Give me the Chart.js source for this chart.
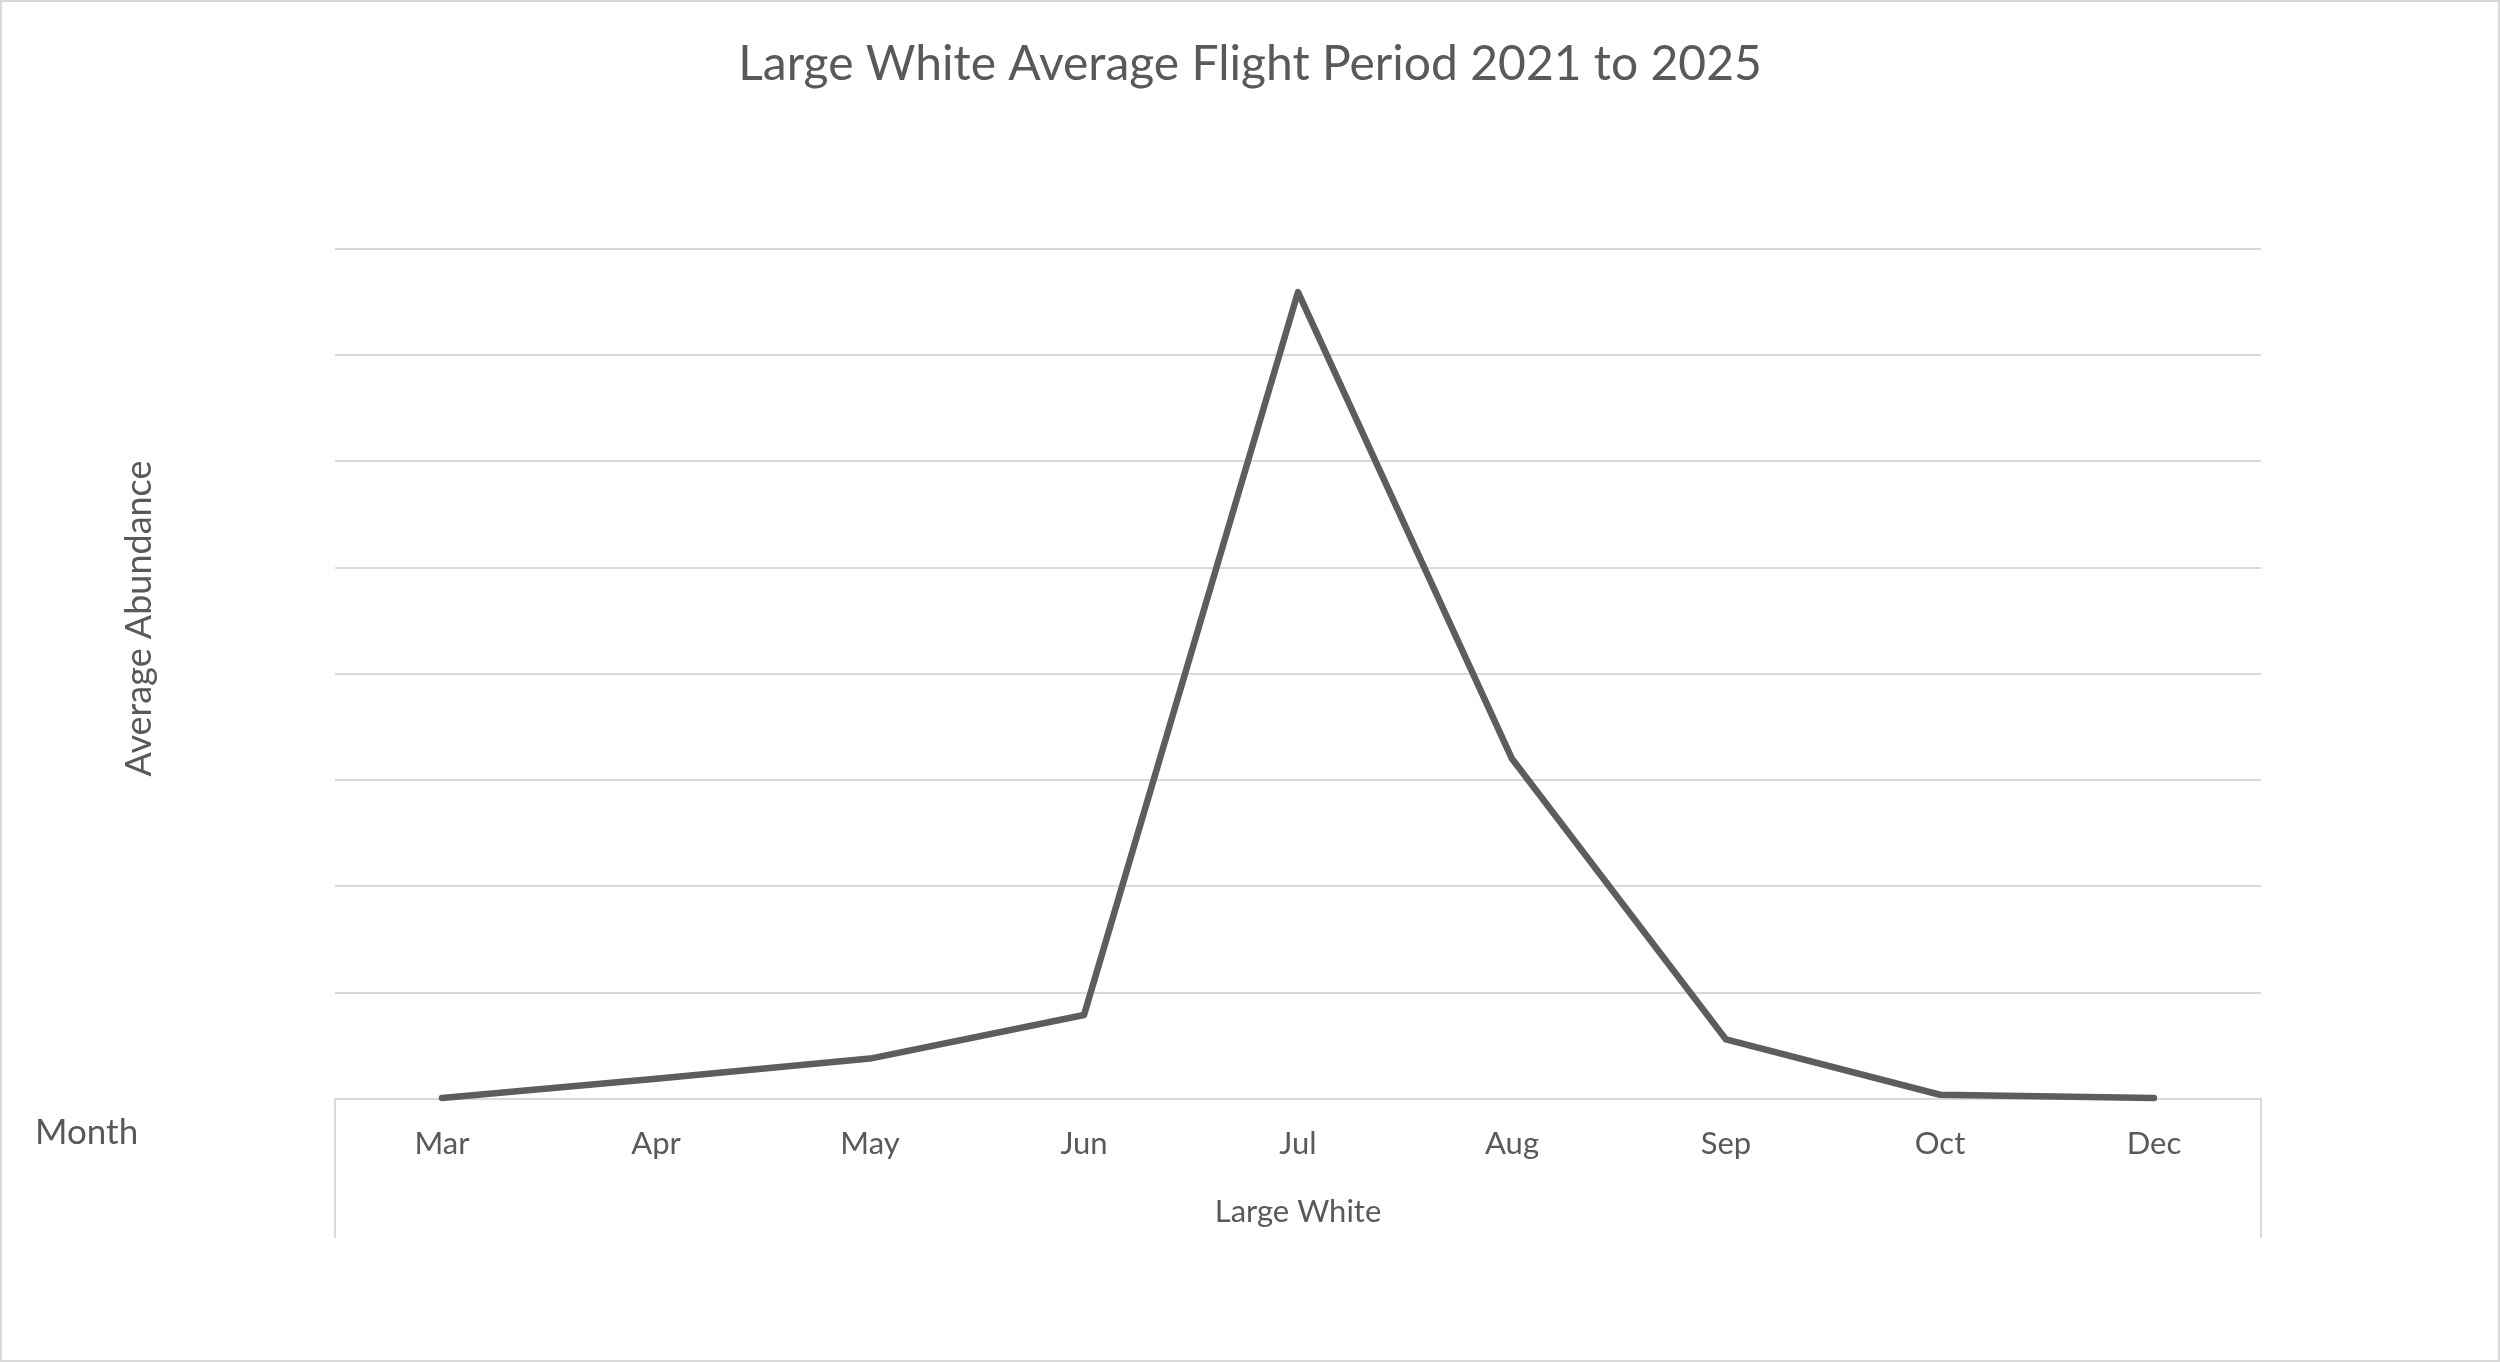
<!DOCTYPE html>
<html>
<head>
<meta charset="utf-8">
<script src="https://cdn.jsdelivr.net/npm/chart.js"></script>
<style>
  html, body { margin: 0; padding: 0; background: #fff; }
  #wrap { position: relative; width: 2500px; height: 1362px; }
  #frame { position: absolute; left: 0; top: 0; width: 2500px; height: 1362px; box-sizing: border-box; border: 2px solid #d9d9d9; pointer-events: none; }
  #month { position: absolute; left: 35px; top: 1109px; font: 35px Lato, sans-serif; color: #595959; line-height: 42px; }
</style>
</head>
<body>
<div id="wrap">
  <canvas id="chart" width="2500" height="1362"></canvas>
  <div id="month">Month</div>
  <div id="frame"></div>
</div>
<script>
const months = ['Mar', 'Apr', 'May', 'Jun', 'Jul', 'Aug', 'Sep', 'Oct', 'Dec']
const largeWhite = [0.01, 0.19, 0.38, 0.79, 7.59, 3.2, 0.56, 0.04, 0.01]
const seriesName = 'Large White'
const chartTitle = 'Large White Average Flight Period 2021 to 2025'
const yTitle = 'Average Abundance'

const grey = '#595959'
const gridGrey = '#d9d9d9'

Chart.defaults.font.family = 'Lato, sans-serif'
Chart.defaults.color = grey

const ctx = document.querySelector('#chart').getContext('2d')

new Chart(ctx, {
    type: 'line',
    data: {
        labels: months,
        datasets: [
            {
                label: seriesName,
                data: largeWhite,
                borderColor: '#5d5d5d',
                borderWidth: 6.5,
                borderCapStyle: 'round',
                borderJoinStyle: 'round',
                pointRadius: 0,
                tension: 0,
                clip: false
            }
        ]
    },
    options: {
        responsive: false,
        animation: false,
        devicePixelRatio: 1,
        // symmetric so the chart title sits in the middle of the canvas
        layout: { padding: { left: 239, right: 239, top: 0, bottom: 0 } },
        plugins: {
            legend: { display: false },
            tooltip: { enabled: false },
            title: {
                display: true,
                text: chartTitle,
                color: grey,
                font: { size: 48, weight: 'normal' },
                padding: { top: 36, bottom: 155 }
            }
        },
        scales: {
            x: {
                offset: true,
                grid: {
                    offset: true,
                    drawOnChartArea: false,
                    tickLength: 139,
                    lineWidth: 2,
                    // only the two outer edges of the category box
                    color: (c) => (c.type === 'scale' || c.index === 0) ? gridGrey : 'rgba(0,0,0,0)'
                },
                border: { color: gridGrey, width: 2 },
                ticks: { font: { size: 31 }, padding: -113, maxRotation: 0, autoSkip: false },
                title: { display: true, text: seriesName, font: { size: 31 }, padding: 131 },
                afterFit: (scale) => { scale.height = 263 }
            },
            y: {
                min: 0,
                max: 8,
                ticks: { display: false, stepSize: 1 },
                grid: { color: gridGrey, lineWidth: 2, drawTicks: false },
                border: { display: false },
                title: { display: true, text: ' '.repeat(12) + yTitle, font: { size: 36 }, padding: -121 },
                afterFit: (scale) => { scale.width = 96 }
            }
        }
    }
})
</script>
</body>
</html>
